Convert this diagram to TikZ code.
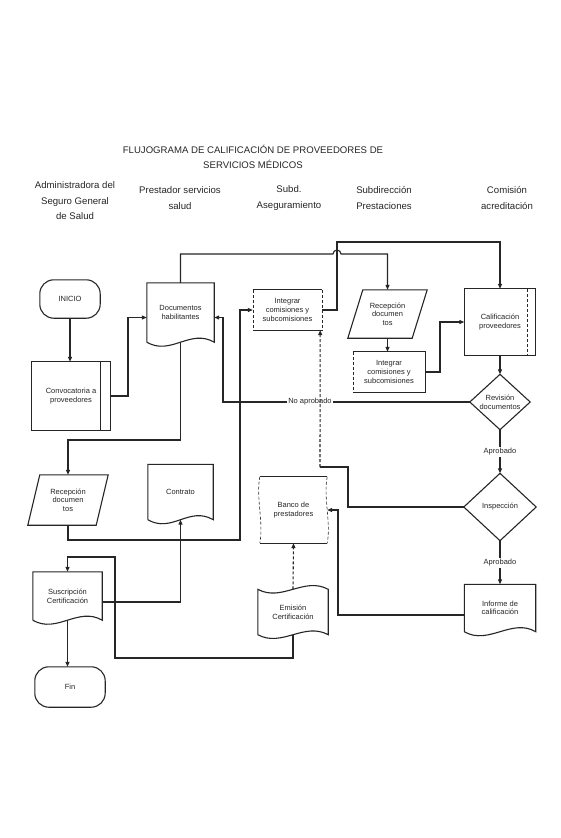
\documentclass[tikz,border=0pt]{standalone}
\usepackage{fontspec}
\setmainfont{Liberation Sans}
\usetikzlibrary{arrows.meta,calc}
\definecolor{ink}{gray}{0.15}
\newcommand{\docoutline}[1]{%
  \draw[shp] (#1.south west) -- (#1.north west) -- (#1.north east) -- (#1.south east)
    .. controls +(-24,-14) and +(24,14) .. (#1.south west);}
\newcommand{\tapeoutline}[1]{%
  \draw[shp] (#1.north west) .. controls +(24,13) and +(-24,-13) .. (#1.north east)
    -- (#1.south east) .. controls +(-24,-13) and +(24,13) .. (#1.south west) -- cycle;}
\newcommand{\paraoutline}[2]{%
  \draw[shp] ([xshift=#2pt]#1.north west) -- (#1.north east) -- ([xshift=-#2pt]#1.south east) -- (#1.south west) -- cycle;}
\newcommand{\diaoutline}[1]{%
  \draw[shp] (#1.north) -- (#1.east) -- (#1.south) -- (#1.west) -- cycle;}
\begin{document}
\begin{tikzpicture}[x=1pt,y=-1pt,
  shp/.style={draw=ink, line width=1.1pt},
  thinside/.style={draw=ink, line width=0.6pt, densely dashed},
  lbl/.style={font=\fontsize{7.5}{8.6}\selectfont, align=center, inner sep=0pt, text=ink},
  hdr/.style={font=\fontsize{9.6}{15.5}\selectfont, align=center, inner sep=0pt, text=ink},
  nd/.style 2 args={lbl, rectangle, minimum width=#1, minimum height=#2},
  conn/.style={draw=ink, line width=1.1pt},
  arr/.style={conn, -{Triangle[length=5pt,width=4pt]}},
  tag/.style={lbl, fill=white, inner sep=1.5pt}
]
\useasboundingbox (0,0) rectangle (560,838);
\fill[white] (0,0) rectangle (560,838);

% title and headers
\node[hdr] (title) at (253,157) {FLUJOGRAMA DE CALIFICACIÓN DE PROVEEDORES DE\\SERVICIOS MÉDICOS};
\node[hdr] (h1) at (75,201) {Administradora del\\Seguro General\\de Salud};
\node[hdr] (h2) at (180,198) {Prestador servicios\\salud};
\node[hdr] (h3) at (289,198) {Subd.\\Aseguramiento};
\node[hdr] (h4) at (384,198) {Subdirección\\Prestaciones};
\node[hdr] (h5) at (507,198) {Comisión\\acreditación};

% nodes
\node[nd={60}{38}] (inicio) at (70,299) {INICIO};
\draw[shp, rounded corners=14pt] (inicio.north west) rectangle (inicio.south east);

\node[nd={78}{68}] (conv) at (71,396) {Convocatoria a\\proveedores};
\draw[shp] (conv.north west) rectangle (conv.south east);
\draw[shp] ([xshift=-10pt]conv.north east) -- ([xshift=-10pt]conv.south east);

\node[nd={67}{59}] (docs) at (180.5,312.5) {Documentos\\habilitantes};
\docoutline{docs}

\node[nd={69}{40}] (integ1) at (287.5,310) {Integrar\\comisiones y\\subcomisiones};
\draw[shp] (integ1.north west) -- (integ1.north east);
\draw[shp] (integ1.south west) -- (integ1.south east);
\draw[thinside] (integ1.north west) -- (integ1.south west);
\draw[thinside] (integ1.north east) -- (integ1.south east);

\node[nd={79}{48}] (recep2) at (387.5,314) {Recepción\\documen\\tos};
\paraoutline{recep2}{15}

\node[nd={72}{40}] (integ2) at (389,372) {Integrar\\comisiones y\\subcomisiones};
\draw[shp] (integ2.north west) -- (integ2.north east) -- (integ2.south east) -- (integ2.south west);
\draw[thinside] (integ2.north west) -- (integ2.south west);

\node[nd={71}{66}] (calif) at (500,322) {Calificación\\proveedores};
\draw[shp] (calif.north west) rectangle (calif.south east);
\draw[thinside] ([xshift=-8pt]calif.north east) -- ([xshift=-8pt]calif.south east);

\node[nd={60}{55}] (rev) at (500,402) {Revisión\\documentos};
\diaoutline{rev}

\node[nd={72}{67}] (insp) at (500,507) {Inspección};
\diaoutline{insp}

\node[nd={71}{47}] (inform) at (500,608) {Informe de\\calificación};
\docoutline{inform}

\node[nd={80}{50}] (recep1) at (68,500) {Recepción\\documen\\tos};
\paraoutline{recep1}{12}

\node[nd={65}{55}] (contrato) at (180.5,492) {Contrato};
\docoutline{contrato}

\node[nd={69}{48}] (susc) at (67.5,596) {Suscripción\\Certificación};
\docoutline{susc}

\node[nd={70}{40}] (fin) at (70,687) {Fin};
\draw[shp, rounded corners=14pt] (fin.north west) rectangle (fin.south east);

\node[nd={67}{66}] (banco) at (293.5,510) {Banco de\\prestadores};
\draw[shp] (banco.north west) -- (banco.north east);
\draw[shp] (banco.south west) -- (banco.south east);
\draw[thinside] (banco.north west) .. controls +(-4,20) and +(4,-20) .. (banco.south west);
\draw[thinside] (banco.north east) .. controls +(-4,20) and +(4,-20) .. (banco.south east);

\node[nd={70}{45}] (emision) at (293,612) {Emisión\\Certificación};
\tapeoutline{emision}

% connectors
\draw[arr] (inicio.south) -- (inicio.south |- conv.north);
\draw[arr] (conv.east) -- (128,396) |- ([yshift=-5pt]docs.west);
\draw[arr] (docs.north) -- (180.5,254) -- (333,254) arc[start angle=180, end angle=360, radius=4] -- (387.5,254) -- (recep2.north);
\draw[arr] (integ1.east) -- (337,310) -- (337,242) -| (calif.north);
\draw[arr] (recep2.south) -- (recep2.south |- integ2.north);
\draw[arr] (integ2.east) -- (440,372) |- (calif.west);
\draw[arr] (calif.south) -- (rev.north);
\draw[arr] (rev.west) -- (223,402) |- ([yshift=-5pt]docs.east);
\node[tag] (noap) at (310,402) {No aprobado};
\draw[arr] (rev.south) -- node[tag] (ap1) {Aprobado} (insp.north);
\draw[arr] (insp.south) -- node[tag] (ap2) {Aprobado} (inform.north);
\coordinate (k1) at (320,467);
\draw[conn] (insp.west) -- (348,507) -- (348,467) -- (k1);
\draw[arr, densely dashed] (k1) -- ([xshift=-2pt]integ1.south east);
\draw[arr] ([yshift=-7pt]inform.west) -- (338,615) |- (banco.east);
\draw[arr, densely dashed] (emision.north) -- (banco.south);
\draw[arr] (emision.south) -- (293,658) -- (115,658) -- (115,557) -| (susc.north);
\draw[arr] ([yshift=-6pt]susc.east) -| (contrato.south);
\draw[arr] (docs.south) -- (180.5,440) -| (recep1.north);
\draw[arr] (recep1.south) |- (240,540) |- (integ1.west);
\draw[arr] (susc.south) -- (susc.south |- fin.north);
\end{tikzpicture}
\end{document}
